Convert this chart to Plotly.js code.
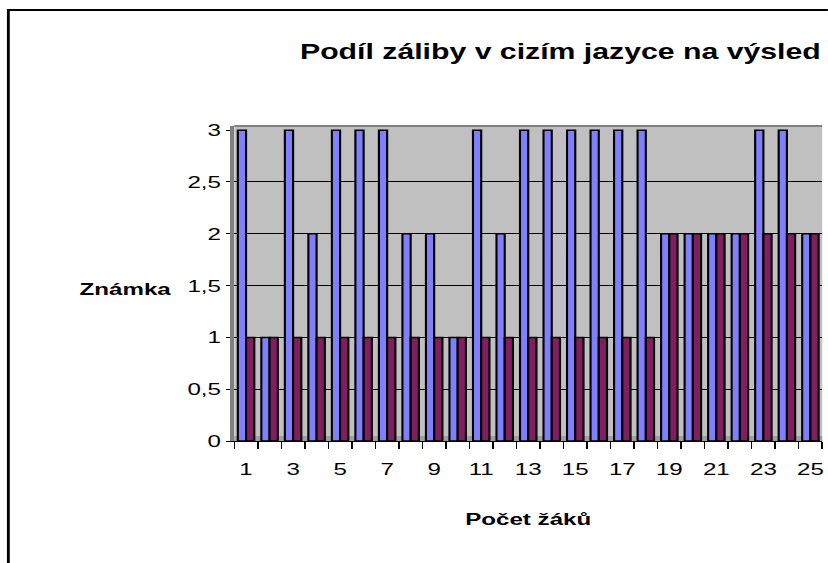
<!DOCTYPE html>
<html>
<head>
<meta charset="utf-8">
<script src="https://cdn.plot.ly/plotly-3.0.1.min.js"></script>
<style>
html,body{margin:0;padding:0;background:#fff;overflow:hidden;width:828px;height:563px;}
#chart{transform-origin:0 0;}
</style>
</head>
<body>
<div id="chart"></div>
<script>
// Data
const categories = [1,2,3,4,5,6,7,8,9,10,11,12,13,14,15,16,17,18,19,20,21,22,23,24,25];
const seriesA = [3,1,3,2,3,3,3,2,2,1,3,2,3,3,3,3,3,3,2,2,2,2,3,3,2];
const seriesB = [1,1,1,1,1,1,1,1,1,1,1,1,1,1,1,1,1,1,2,2,2,2,2,2,2];
const xTickLabels = ['1','3','5','7','9','11','13','15','17','19','21','23','25'];
const yTickVals = [0,0.5,1,1.5,2,2.5,3];
const yTickText = ['0','0,5','1','1,5','2','2,5','3'];
const yGridVals = [0.5,1,1.5,2,2.5];

// The reference image is horizontally stretched; draw narrower and stretch the same way.
const S = 1.42;
const W = 828, H = 563;
const W0 = W / S;
const el = document.getElementById('chart');
el.style.width = W0 + 'px';
el.style.height = H + 'px';
el.style.transform = 'scaleX(' + S + ')';

const ML = 234, MR = 6, MT = 126, MB = 122;       // in reference pixels
const M = {l:ML / S, r:MR / S, t:MT, b:MB, pad:0};
const pw = W - ML - MR, ph = H - MT - MB;
const px = v => (v - ML) / pw;          // reference pixel -> paper x
const py = v => (H - MB - v) / ph;      // reference pixel -> paper y

const font = 'Arial, "Liberation Sans", sans-serif';

const traces = [
  {type:'bar', x:categories, y:seriesA, name:'A',
   marker:{color:'#8080FF', line:{color:'#000000', width:1.5}}},
  {type:'bar', x:categories, y:seriesB, name:'B',
   marker:{color:'#7F1F5F', line:{color:'#000000', width:1.5}}}
];

const layout = {
  width:W0, height:H, margin:M,
  paper_bgcolor:'#ffffff', plot_bgcolor:'#C0C0C0',
  showlegend:false,
  barmode:'group', bargap:0.3, bargroupgap:0,
  font:{family:font, size:17, color:'#000'},
  title:{text:'Podíl záliby v cizím jazyce na výsled', xref:'container', yref:'container',
         x:300/W, xanchor:'left', y:1-52/H, yanchor:'middle',
         font:{family:font, size:21.3, color:'#000', weight:'bold'}},
  xaxis:{range:[0.5,25.5], tickmode:'array', tickvals:xTickLabels.map(Number), ticktext:xTickLabels,
         ticks:'outside', ticklen:13, tickcolor:'rgba(0,0,0,0)',
         minor:{tickmode:'linear', tick0:0.5, dtick:1, ticks:'outside', ticklen:7, tickcolor:'#000', tickwidth:1, showgrid:false},
         showgrid:false, zeroline:false, showline:true, linecolor:'#000', linewidth:1,
         tickfont:{family:font, size:17, color:'#000'},
         title:{text:'Počet žáků', standoff:34, font:{family:font, size:17, color:'#000', weight:'bold'}},
         fixedrange:true},
  yaxis:{range:[0,3.04], tickmode:'array', tickvals:yTickVals, ticktext:yTickText,
         ticks:'outside', ticklen:3, tickcolor:'#000',
         showgrid:false, zeroline:false,
         minor:{tickmode:'array', tickvals:yGridVals, ticks:'', showgrid:true, gridcolor:'#000000', gridwidth:1},
         showline:true, linecolor:'#808080', linewidth:3,
         tickfont:{family:font, size:17, color:'#000'}, fixedrange:true},
  shapes:[
    // outer chart frame
    {type:'rect', xref:'paper', yref:'paper', x0:px(8), x1:px(900), y0:py(10), y1:py(700),
     line:{color:'#000', width:2}, fillcolor:'rgba(0,0,0,0)', layer:'below'},
    // floor strip of the 3D plot
    {type:'rect', xref:'paper', yref:'paper', x0:0, x1:1, y0:0, y1:py(H-MB-5),
     line:{width:0}, fillcolor:'#A0A0A0', layer:'below'},
    // top edge of the back wall
    {type:'line', xref:'paper', yref:'paper', x0:0, x1:1, y0:1, y1:1,
     line:{color:'#808080', width:2}, layer:'below'}
  ],
  annotations:[
    {text:'Známka', xref:'paper', yref:'y', x:px(175), y:1.5, yshift:-4, xanchor:'right', yanchor:'middle',
     showarrow:false, font:{family:font, size:17, color:'#000', weight:'bold'}}
  ]
};

Plotly.newPlot('chart', traces, layout, {displayModeBar:false, staticPlot:true});
</script>
</body>
</html>
